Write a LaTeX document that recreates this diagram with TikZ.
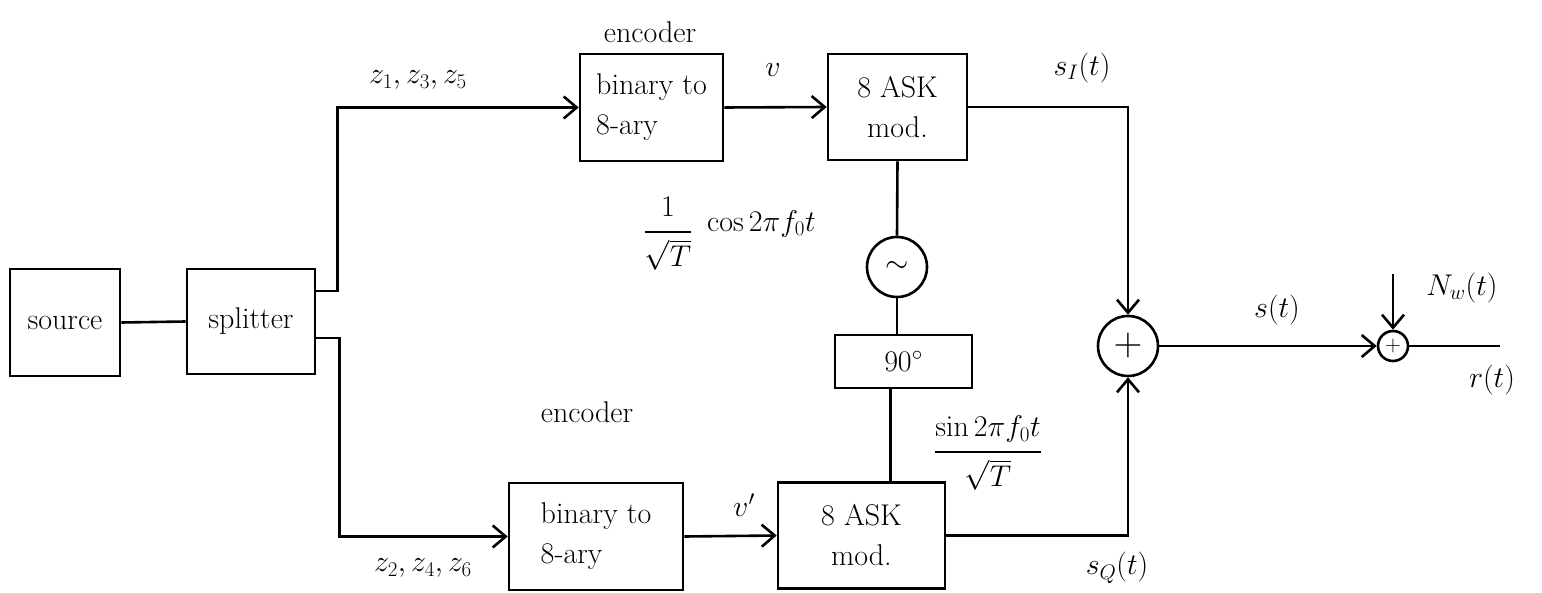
\documentclass[tikz,border=0pt]{standalone}
\usepackage{fix-cm}
\usetikzlibrary{arrows.meta}
\begin{document}
\begin{tikzpicture}[x=1pt,y=-1pt,
  every node/.style={font=\fontsize{30}{36}\selectfont},
  blk/.style={draw, line width=2.6pt, inner sep=2pt, align=center},
  ring/.style={draw, circle, line width=2.6pt, inner sep=0pt},
  wire/.style={line width=2.6pt},
  arr/.style={line width=2.6pt, -{Straight Barb[length=13pt,width=22pt,line width=2.6pt]}},
  lbl/.style={inner sep=1pt},
  fracl/.style={inner sep=0pt, font=\fontsize{30}{36}\selectfont\setlength{\arrayrulewidth}{1.4pt}\renewcommand{\arraystretch}{1.35}}]
\useasboundingbox (0,0) rectangle (1542,593);

% blocks
\node[blk, minimum width=110pt, minimum height=107pt] (src) at (65,322.5) {source};
\node[blk, minimum width=128pt, minimum height=105pt] (spl) at (251,321.5) {splitter};
\node[blk, minimum width=143pt, minimum height=107pt, align=left] (enc1) at (651.5,107.5) {binary to\\[4pt]8-ary};
\node[blk, minimum width=139pt, minimum height=106pt] (ask1) at (897.5,107) {8 ASK\\[4pt]mod.};
\node[ring, minimum size=60pt] (osc) at (897,267) {$\sim$};
\node[blk, minimum width=137pt, minimum height=53pt] (ph) at (903.5,361.5) {$90^\circ$};
\node[blk, minimum width=174pt, minimum height=107pt, align=left] (enc2) at (596,536.5) {binary to\\[4pt]8-ary};
\node[blk, minimum width=167pt, minimum height=106pt] (ask2) at (861.5,535.5) {8 ASK\\[4pt]mod.};
\node[ring, minimum size=60pt, font=\fontsize{40}{44}\selectfont] (add) at (1128,346) {$+$};
\node[ring, minimum size=30pt, font=\fontsize{22}{26}\selectfont] (add2) at (1393,346) {$+$};
\coordinate (nz) at (1393,274);
\coordinate (rout) at (1500,346);

% connectors
\draw[wire] (src.east) -- (spl.west);
\draw[arr] (spl.east |- {(0,291)}) -- ++(21,0) |- (enc1.west);
\draw[arr] (spl.east |- {(0,338)}) -- ++(23,0) |- (enc2.west);
\draw[arr] (enc1.east) -- (ask1.west);
\draw[arr] (enc2.east) -- (ask2.west);
\draw[wire] (ask1.south) -- (osc.north);
\draw[wire] (osc.south) -- (osc.south |- ph.north);
\draw[wire] ([xshift=-13pt]ph.south) -- ([xshift=-13pt]ph.south |- ask2.north);
\draw[arr] (ask1.east) -| (add.north);
\draw[arr] (ask2.east) -| (add.south);
\draw[arr] (add.east) -- (add2.west);
\draw[arr] (nz) -- (add2.north);
\draw[wire] (add2.east) -- (rout);

% labels
\node[lbl] (encl1) at (650,32) {encoder};
\node[lbl] (encl2) at (587,412) {encoder};
\node[lbl] (zodd) at (418,80) {$z_1, z_3, z_5$};
\node[lbl] (zeven) at (423,568) {$z_2, z_4, z_6$};
\node[lbl] (vl) at (773,70) {$v$};
\node[lbl] (vpl) at (744,505) {$v'$};
\node[fracl] (cfrac) at (668,232) {\begin{tabular}{@{}c@{}}$1$\\\hline$\sqrt{T}$\end{tabular}};
\node[lbl, anchor=west] (cosl) at (706,224) {$\cos 2\pi f_0 t$};
\node[fracl] (sinl) at (988,452) {\begin{tabular}{@{}c@{}}$\sin 2\pi f_0 t$\\\hline$\sqrt{T}$\end{tabular}};
\node[lbl] (sil) at (1082,68) {$s_I(t)$};
\node[lbl] (sql) at (1117,568) {$s_Q(t)$};
\node[lbl] (sl) at (1277,310) {$s(t)$};
\node[lbl] (nwl) at (1462,288) {$N_w(t)$};
\node[lbl] (rl) at (1492,380) {$r(t)$};
\end{tikzpicture}
\end{document}
